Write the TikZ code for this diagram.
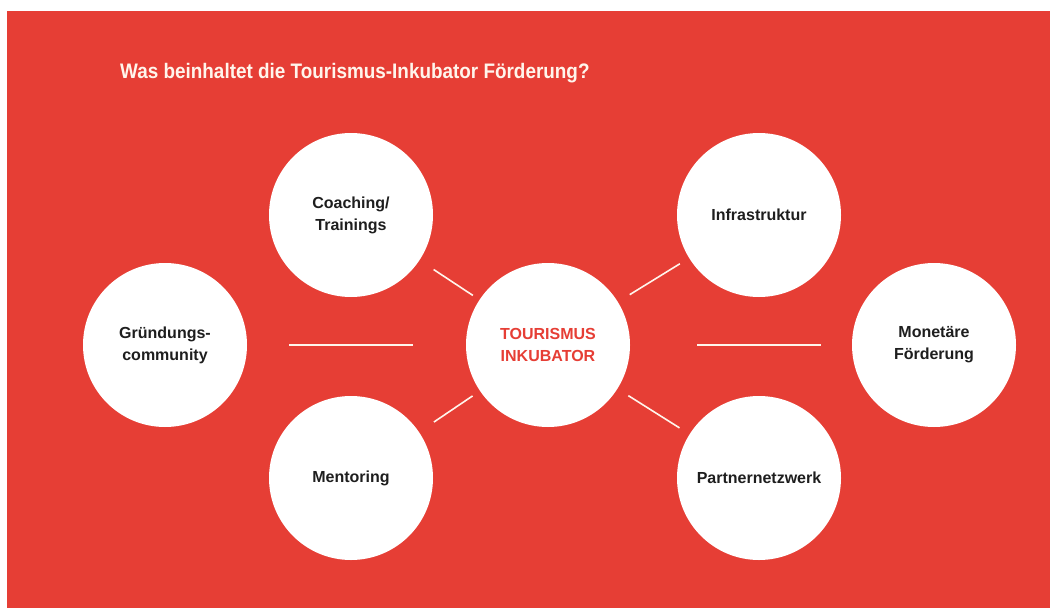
\documentclass[tikz,border=0pt]{standalone}
\usepackage{fontspec}
\setmainfont{Liberation Sans}
\newfontfamily\headfont[FakeStretch=0.9]{Liberation Sans}
\definecolor{brandred}{RGB}{230,62,53}
\definecolor{cream}{RGB}{255,245,236}
\definecolor{ink}{RGB}{30,30,30}
\begin{document}
\begin{tikzpicture}[x=1pt,y=-1pt,
  bubble/.style={circle, fill=white, minimum size=164pt, inner sep=0pt, outer sep=0pt,
    align=center, font=\fontsize{16}{22}\selectfont\bfseries, text=ink},
  hub/.style={bubble, text=brandred},
  link/.style={draw=cream, line width=1.6pt}]
  \useasboundingbox (0,0) rectangle (1050,608);
  % page background
  \fill[brandred] (7,11) rectangle (1050,608);
  % heading
  \node[anchor=base west, inner sep=0pt, text=cream,
        font=\headfont\fontsize{21}{25}\selectfont\bfseries] (title) at (120,78)
        {Was beinhaltet die Tourismus-Inkubator Förderung?};
  % hub and surrounding topics
  \node[hub]    (hub)   at (548,345) {TOURISMUS\\INKUBATOR};
  \node[bubble] (coach) at (351,215) {Coaching/\\Trainings};
  \node[bubble] (ment)  at (351,478) {Mentoring};
  \node[bubble] (comm)  at (165,345) {Gründungs-\\community};
  \node[bubble] (infra) at (759,215) {Infrastruktur};
  \node[bubble] (partn) at (759,478) {Partnernetzwerk};
  \node[bubble] (money) at (934,345) {Monetäre\\Förderung};
  % connectors, kept clear of the circles
  \draw[link, shorten <=42pt, shorten >=53pt] (comm) -- (hub);
  \draw[link, shorten <=67pt, shorten >=31pt] (hub) -- (money);
  \draw[link, shorten <=17pt, shorten >=8pt]  (coach) -- (hub);
  \draw[link, shorten <=18pt, shorten >=9pt]  (ment) -- (hub);
  \draw[link, shorten <=14pt, shorten >=11pt] (hub) -- (infra);
  \draw[link, shorten <=13pt, shorten >=12pt] (hub) -- (partn);
\end{tikzpicture}
\end{document}
